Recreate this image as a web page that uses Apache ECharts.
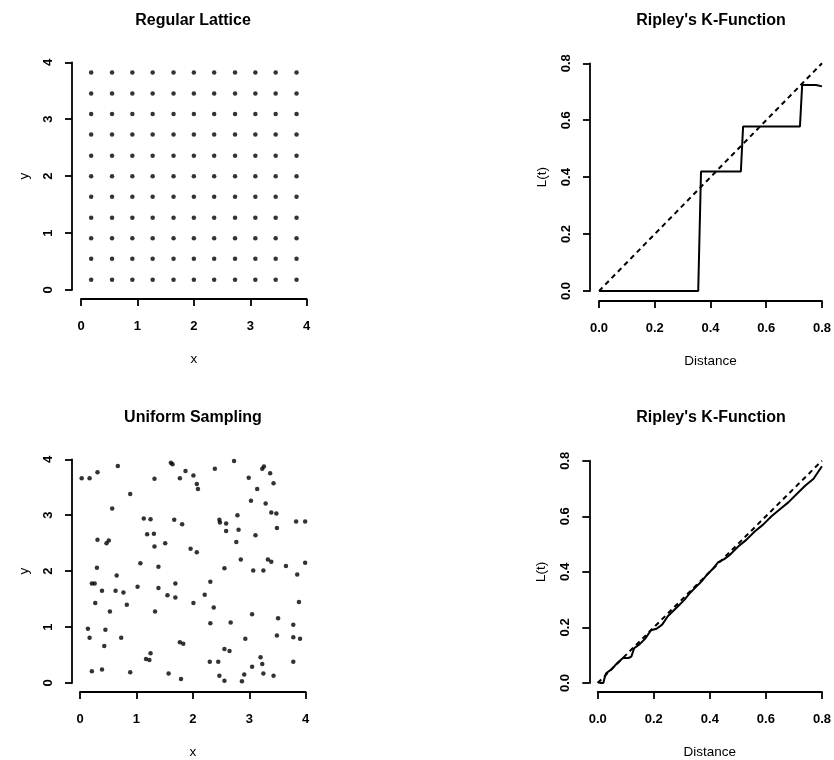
<!DOCTYPE html>
<html><head><meta charset="utf-8">
<script src="https://cdn.jsdelivr.net/npm/echarts@6/dist/echarts.min.js"></script>
<style>html,body{margin:0;padding:0;background:#fff}#c{width:834px;height:760px}</style>
</head><body><div id="c"></div>
<script>
// ---- data ----
const panelTitles = ["Regular Lattice", "Ripley's K-Function", "Uniform Sampling", "Ripley's K-Function"];
const latticeCoords = [0.18, 0.55, 0.91, 1.27, 1.64, 2.0, 2.36, 2.73, 3.09, 3.45, 3.82];
const uniformX = [0.03,0.17,0.31,0.67,1.61,1.64,1.87,2.01,1.77,1.32,2.39,2.73,2.07,2.09,3.26,3.23,3.37,2.99,3.43,3.14,0.89,0.57,3.03,3.29,3.39,3.48,2.79,1.13,1.25,1.67,1.81,2.47,2.48,2.59,3.83,3.99,2.81,2.59,3.49,1.19,1.31,3.11,0.31,0.51,0.47,1.32,1.51,2.77,1.96,2.07,
  2.85,3.33,3.39,1.07,1.39,0.30,2.56,3.07,3.25,3.65,3.99,3.85,0.65,0.21,0.26,1.69,2.31,0.39,0.63,0.77,1.02,1.39,1.55,1.69,2.21,0.27,0.83,2.01,0.53,1.33,2.37,3.88,3.05,3.51,2.31,2.67,3.78,0.14,0.45,0.17,0.73,2.93,3.49,3.78,3.90,0.43,1.77,1.83,1.25,1.17,1.23,2.56,2.65,3.20,2.30,2.45,3.23,3.78,3.05,0.21,0.39,0.89,1.57,2.47,2.91,3.25,3.43,1.79,2.56,2.87];
const uniformY = [3.66,3.66,3.77,3.88,3.94,3.91,3.79,3.71,3.66,3.65,3.83,3.97,3.56,3.47,3.87,3.83,3.75,3.67,3.57,3.47,3.38,3.12,3.26,3.21,3.05,3.03,3.00,2.94,2.93,2.92,2.84,2.92,2.87,2.85,2.89,2.89,2.74,2.72,2.77,2.66,2.67,2.64,2.56,2.55,2.50,2.44,2.50,2.52,2.40,2.34,
  2.21,2.21,2.17,2.14,2.08,2.06,2.05,2.01,2.01,2.09,2.15,1.94,1.92,1.78,1.78,1.78,1.81,1.65,1.65,1.62,1.72,1.70,1.57,1.53,1.58,1.43,1.40,1.43,1.28,1.28,1.35,1.45,1.23,1.16,1.07,1.08,1.04,0.97,0.95,0.81,0.81,0.79,0.85,0.82,0.79,0.66,0.73,0.70,0.53,0.43,0.41,0.61,0.57,0.46,0.38,0.38,0.34,0.38,0.29,0.21,0.24,0.19,0.17,0.13,0.15,0.17,0.13,0.07,0.04,0.03];
const latticeT = [0, 0.356, 0.366, 0.509, 0.517, 0.721, 0.729, 0.779, 0.8];
const latticeL = [0, 0, 0.42, 0.42, 0.578, 0.578, 0.724, 0.724, 0.719];
const uniformT = [0, 0.01, 0.02, 0.025, 0.03, 0.05, 0.07, 0.09, 0.11, 0.12, 0.13, 0.15, 0.17, 0.19, 0.21, 0.23, 0.25, 0.27, 0.29, 0.31, 0.33, 0.35, 0.37, 0.39, 0.41, 0.43, 0.45, 0.47, 0.50, 0.53, 0.56, 0.59, 0.62, 0.65, 0.68, 0.71, 0.74, 0.77, 0.80];
const uniformL = [0.005, 0.0, 0.0, 0.02, 0.035, 0.05, 0.072, 0.09, 0.09, 0.095, 0.125, 0.14, 0.16, 0.19, 0.195, 0.21, 0.24, 0.26, 0.28, 0.30, 0.325, 0.345, 0.365, 0.39, 0.41, 0.435, 0.445, 0.46, 0.49, 0.515, 0.545, 0.57, 0.60, 0.625, 0.65, 0.68, 0.71, 0.735, 0.78];
const csrT = [0, 0.8];
const csrL = [0, 0.8];
const spaceAxisNames = ["x", "y"];
const distAxisNames = ["Distance", "L(t)"];

// ---- build ----
const latticePts = [];
latticeCoords.forEach(yv => latticeCoords.forEach(xv => latticePts.push([xv, yv])));
const uniformPts = uniformX.map((v, i) => [v, uniformY[i]]);
const zip = (a, b) => a.map((v, i) => [v, b[i]]);

const FONT = '"Liberation Sans", Arial, Helvetica, sans-serif';
const grids = [
  {left: 81, top: 62.3, width: 225.7, height: 227.7, xo: 9, yo: 9},
  {left: 599, top: 63.3, width: 225.3, height: 227.7, xo: 10, yo: 9},
  {left: 80, top: 459.3, width: 225.7, height: 227.4, xo: 9, yo: 8},
  {left: 597.7, top: 460.7, width: 226, height: 227, xo: 9, yo: 8.4}
];
const isDist = [false, true, false, true];

function axisCommon(i, dir) {
  const d = isDist[i];
  const g = grids[i];
  const off = dir === 'x' ? g.xo : g.yo;
  return {
    type: 'value', gridIndex: i,
    min: 0, max: d ? 0.8 : 4, interval: d ? 0.2 : 1,
    offset: off,
    name: d ? (dir === 'x' ? distAxisNames[0] : distAxisNames[1]) : (dir === 'x' ? spaceAxisNames[0] : spaceAxisNames[1]),
    nameLocation: 'middle',
    nameGap: dir === 'x' ? 53 : 41,
    nameRotate: dir === 'x' ? 0 : 90,
    nameTextStyle: {fontFamily: FONT, fontSize: 13.5, color: '#000'},
    axisLine: {show: true, onZero: false, lineStyle: {color: '#000', width: 1.8}},
    axisTick: {show: true, length: 7, inside: false, lineStyle: {color: '#000', width: 1.8}},
    axisLabel: {
      show: true, margin: dir === 'x' ? 21 : 17, color: '#000', fontFamily: FONT, fontSize: 13, fontWeight: 'bold',
      rotate: dir === 'x' ? 0 : 90,
      formatter: v => d ? v.toFixed(1) : String(v)
    },
    splitLine: {show: false}
  };
}

const option = {
  backgroundColor: '#fff',
  animation: false,
  grid: grids.map(g => ({left: g.left, top: g.top, width: g.width, height: g.height, containLabel: false})),
  xAxis: grids.map((g, i) => Object.assign(axisCommon(i, 'x'), {position: 'bottom'})),
  yAxis: grids.map((g, i) => Object.assign(axisCommon(i, 'y'), {position: 'left'})),
  graphic: panelTitles.map((t, i) => ({
    type: 'text',
    x: [193, 711, 193, 711][i],
    y: [21, 21, 418, 418][i],
    style: {text: t, textAlign: 'center', textVerticalAlign: 'middle', font: 'bold 16px ' + FONT, fill: '#000'}
  })),
  series: [
    {type: 'scatter', xAxisIndex: 0, yAxisIndex: 0, data: latticePts, symbol: 'circle', symbolSize: 4.5, itemStyle: {color: '#000'}, clip: false},
    {type: 'line', xAxisIndex: 1, yAxisIndex: 1, data: zip(csrT, csrL), showSymbol: false, symbol: 'none', lineStyle: {color: '#000', width: 2, type: [5, 4]}, clip: false},
    {type: 'line', xAxisIndex: 1, yAxisIndex: 1, data: zip(latticeT, latticeL), showSymbol: false, symbol: 'none', lineStyle: {color: '#000', width: 2}, clip: false},
    {type: 'scatter', xAxisIndex: 2, yAxisIndex: 2, data: uniformPts, symbol: 'circle', symbolSize: 4.5, itemStyle: {color: '#000'}, clip: false},
    {type: 'line', xAxisIndex: 3, yAxisIndex: 3, data: zip(csrT, csrL), showSymbol: false, symbol: 'none', lineStyle: {color: '#000', width: 2, type: [5, 4]}, clip: false},
    {type: 'line', xAxisIndex: 3, yAxisIndex: 3, data: zip(uniformT, uniformL), showSymbol: false, symbol: 'none', lineStyle: {color: '#000', width: 2}, clip: false}
  ]
};
const chart = echarts.init(document.getElementById('c'), null, {renderer: 'canvas'});
chart.setOption(option);
</script>
</body></html>
